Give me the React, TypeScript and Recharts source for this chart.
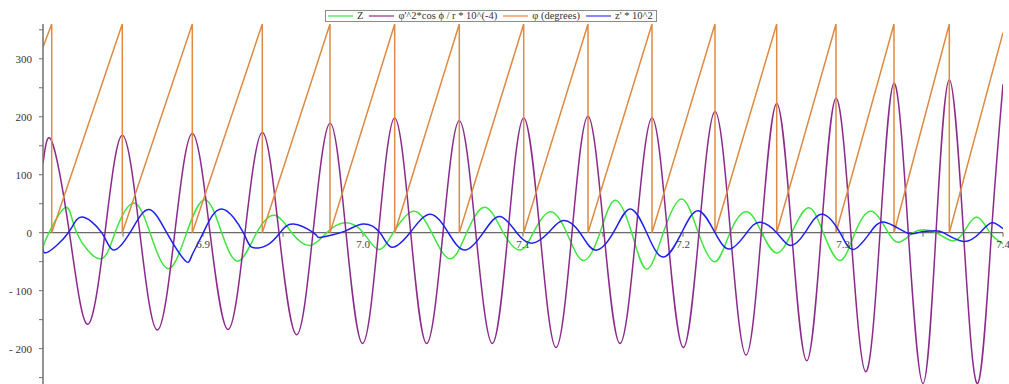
import { Legend, Line, LineChart, ReferenceDot, ReferenceLine, XAxis, YAxis } from "recharts";

const serif = '"Liberation Serif", "DejaVu Serif", serif';

// φ (degrees) – sawtooth, wraps from 360 to 0 at these x
const phiResets = [
  6.80544, 6.84956, 6.89331, 6.93706, 6.97938, 7.01981, 7.06019, 7.10044, 7.14063, 7.18063, 7.22, 7.25856, 7.29563,
  7.33188, 7.36644,
];
const phiStart = 320;
const phiEnd = 345;

// φ'^2*cos ϕ / r * 10^(-4) – peaks, troughs and zero crossings
const purpleX = [
  6.8, 6.80544, 6.8165, 6.82775, 6.83875, 6.84956, 6.8605, 6.87144, 6.88238, 6.89331, 6.90438, 6.91563, 6.92625,
  6.93706, 6.9475, 6.95844, 6.96875, 6.97938, 6.98938, 6.99969, 7.00969, 7.01981, 7.02981, 7.03981, 7.05, 7.06019,
  7.0705, 7.08081, 7.09063, 7.10044, 7.11063, 7.12063, 7.13063, 7.14063, 7.15063, 7.16063, 7.17063, 7.18063, 7.19031,
  7.20019, 7.21, 7.22, 7.22969, 7.23938, 7.24894, 7.25856, 7.26794, 7.27731, 7.28644, 7.29563, 7.30488, 7.31419,
  7.32313, 7.33188, 7.34081, 7.35, 7.35813, 7.36644, 7.37531, 7.38419, 7.39281, 7.4,
];
const purpleY = [
  119, 158, 0, -158, 0, 168, 0, -168, 0, 171, 0, -167, 0, 173, 0, -176, 0, 189, 0, -191, 0, 198, 0, -191, 0, 193, 0,
  -191, 0, 198, 0, -198, 0, 201, 0, -191, 0, 198, 0, -198, 0, 209, 0, -211, 0, 223, 0, -221, 0, 232, 0, -240, 0, 258,
  0, -260, 0, 264, 0, -260, 0, 256,
];

// Z
const greenX = [
  6.8, 6.80375, 6.81438, 6.82106, 6.83563, 6.845, 6.85644, 6.86688, 6.87831, 6.88981, 6.90125, 6.91169, 6.92206,
  6.93356, 6.945, 6.95544, 6.96688, 6.97731, 6.98875, 7.00019, 7.00956, 7.01894, 7.03144, 7.04294, 7.05438, 7.06481,
  7.07625, 7.08769, 7.09813, 7.10644, 7.11688, 7.12731, 7.13769, 7.14813, 7.1575, 7.16794, 7.17731, 7.18769, 7.19919,
  7.20956, 7.22, 7.22938, 7.23981, 7.24919, 7.25856, 7.26794, 7.27831, 7.28769, 7.29813, 7.3075, 7.31794, 7.32831,
  7.33563, 7.34394, 7.35019, 7.35813, 7.36794, 7.37519, 7.38356, 7.39188, 7.4,
];
const greenY = [
  -25, 0, 44, 0, -45, 0, 51, 0, -62, 0, 57, 0, -49, 0, 30, 0, -22, 0, 17, 0, -29, 0, 37, 0, -45, 0, 44, 0, -30, 0, 36,
  0, -48, 0, 56, 0, -63, 0, 58, 0, -50, 0, 36, 0, -35, 0, 43, 0, -48, 0, 37, 0, -16, 0, 5, 0, -14, 0, 27, 0, -19,
];

// z' * 10^2
const blueX = [
  6.8, 6.80331, 6.81581, 6.82419, 6.83669, 6.84394, 6.85438, 6.86581, 6.87731, 6.88875, 6.89294, 6.90019, 6.91169,
  6.92519, 6.93044, 6.93981, 6.94813, 6.95644, 6.96894, 6.97206, 6.97731, 6.98981, 7.00019, 7.01063, 7.01794, 7.02938,
  7.04188, 7.05331, 7.06375, 7.07519, 7.08563, 7.09606, 7.10544, 7.11581, 7.12519, 7.13563, 7.145, 7.15644, 7.16688,
  7.17731, 7.18769, 7.19919, 7.20956, 7.22, 7.22938, 7.23981, 7.24813, 7.25856, 7.26688, 7.27625, 7.28669, 7.29813,
  7.30644, 7.31688, 7.32625, 7.33981, 7.34813, 7.35644, 7.36269, 7.37519, 7.38563, 7.39294, 7.4,
];
const blueY = [
  -27, -33, 0, 27, 0, -30, 0, 40, 0, -48, -40, 0, 41, 0, -25, -22, 0, 15, 0, -8, -6, 4, 15, 0, -25, 0, 32, 0, -30, 0,
  28, 0, -18, 0, 21, 0, -30, 0, 41, 0, -42, 0, 38, 0, -28, 0, 18, 0, -22, 0, 32, 0, -29, 0, 18, 0, 1, 3, 0, -15, 0, 17,
  7,
];

const yTicks = [-250, -200, -150, -100, -50, 0, 50, 100, 150, 200, 250, 300, 350];
const xTicks = [6.85, 6.9, 6.95, 7.0, 7.05, 7.1, 7.15, 7.2, 7.25, 7.3, 7.35, 7.4];
const xTickLabels = ["", "6.9", "", "7.0", "", "7.1", "", "7.2", "", "7.3", "", "7.4"];

const seriesNames = ["Z", "φ'^2*cos ϕ / r * 10^(-4)", "φ (degrees)", "z' * 10^2"];
const seriesColors = ["#3ee63e", "#8c2a8c", "#df8a42", "#2020ee"];
const legendColors = ["#6cea6c", "#b05cb0", "#eba46a", "#6a6aff"];

const toPoints = (xs: number[], ys: number[]) => xs.map((x, i) => ({ x, y: ys[i] }));

const phiData = [
  { x: 6.8, y: phiStart },
  ...phiResets.flatMap((x) => [
    { x, y: 360 },
    { x, y: 0 },
  ]),
  { x: 7.4, y: phiEnd },
];

function LegendBox() {
  return (
    <div
      style={{
        display: "inline-flex",
        alignItems: "center",
        height: 10,
        padding: "0 1px 0 2px",
        border: "1.5px solid #8c8c8c",
        background: "#fff",
        fontFamily: serif,
        fontSize: 10.5,
        color: "#333",
        whiteSpace: "nowrap",
        lineHeight: "10px",
      }}
    >
      {seriesNames.map((name, i) => (
        <span
          key={name}
          style={{ display: "inline-flex", alignItems: "center", marginRight: i === seriesNames.length - 1 ? 2 : 6 }}
        >
          <svg width={25} height={4} style={{ marginRight: 4, display: "block" }}>
            <line x1={0} y1={2} x2={25} y2={2} stroke={legendColors[i]} strokeWidth={1.6} />
          </svg>
          {name}
        </span>
      ))}
    </div>
  );
}

export default function App() {
  return (
    <div style={{ position: "absolute", left: 0, top: 0, width: 1009, height: 384, background: "#fff" }}>
      <LineChart width={1009} height={384} margin={{ top: 24, right: 6, bottom: 0, left: 0 }}>
        <XAxis type="number" dataKey="x" domain={[6.8, 7.4]} allowDataOverflow hide />
        <YAxis
          type="number"
          domain={[-261, 360]}
          allowDataOverflow
          ticks={yTicks}
          interval={0}
          width={43}
          tickSize={4}
          tickMargin={7}
          axisLine={{ stroke: "#707070", strokeWidth: 1.5 }}
          tickLine={{ stroke: "#707070" }}
          tick={{ fill: "#333", fontSize: 11, fontFamily: serif }}
          tickFormatter={(v: number) => (v % 100 === 0 ? (v < 0 ? `- ${Math.abs(v)}` : String(v)) : "")}
        />
        <ReferenceLine y={0} stroke="#6a6a6a" strokeWidth={1.2} />
        {xTicks.map((t) => (
          <ReferenceLine
            key={`t${t}`}
            segment={[
              { x: t, y: 0 },
              { x: t, y: -7 },
            ]}
            stroke="#6a6a6a"
          />
        ))}
        {xTicks.map((t, i) =>
          xTickLabels[i] ? (
            <ReferenceDot
              key={`l${t}`}
              x={t}
              y={0}
              r={0}
              fill="none"
              stroke="none"
              label={{ value: xTickLabels[i], position: "bottom", offset: 7, fill: "#444", fontSize: 11, fontFamily: serif }}
            />
          ) : null,
        )}
        <Legend
          layout="horizontal"
          verticalAlign="middle"
          align="center"
          wrapperStyle={{ top: 4, left: 325, width: 360, height: 14, textAlign: "left" }}
          content={<LegendBox />}
        />
        <Line
          data={toPoints(greenX, greenY)}
          dataKey="y"
          name={seriesNames[0]}
          type="natural"
          stroke={seriesColors[0]}
          strokeWidth={1.5}
          dot={false}
          isAnimationActive={false}
        />
        <Line
          data={toPoints(purpleX, purpleY)}
          dataKey="y"
          name={seriesNames[1]}
          type="natural"
          stroke={seriesColors[1]}
          strokeWidth={1.5}
          dot={false}
          isAnimationActive={false}
        />
        <Line
          data={phiData}
          dataKey="y"
          name={seriesNames[2]}
          type="linear"
          stroke={seriesColors[2]}
          strokeWidth={1.5}
          dot={false}
          isAnimationActive={false}
        />
        <Line
          data={toPoints(blueX, blueY)}
          dataKey="y"
          name={seriesNames[3]}
          type="natural"
          stroke={seriesColors[3]}
          strokeWidth={1.5}
          dot={false}
          isAnimationActive={false}
        />
      </LineChart>
    </div>
  );
}
